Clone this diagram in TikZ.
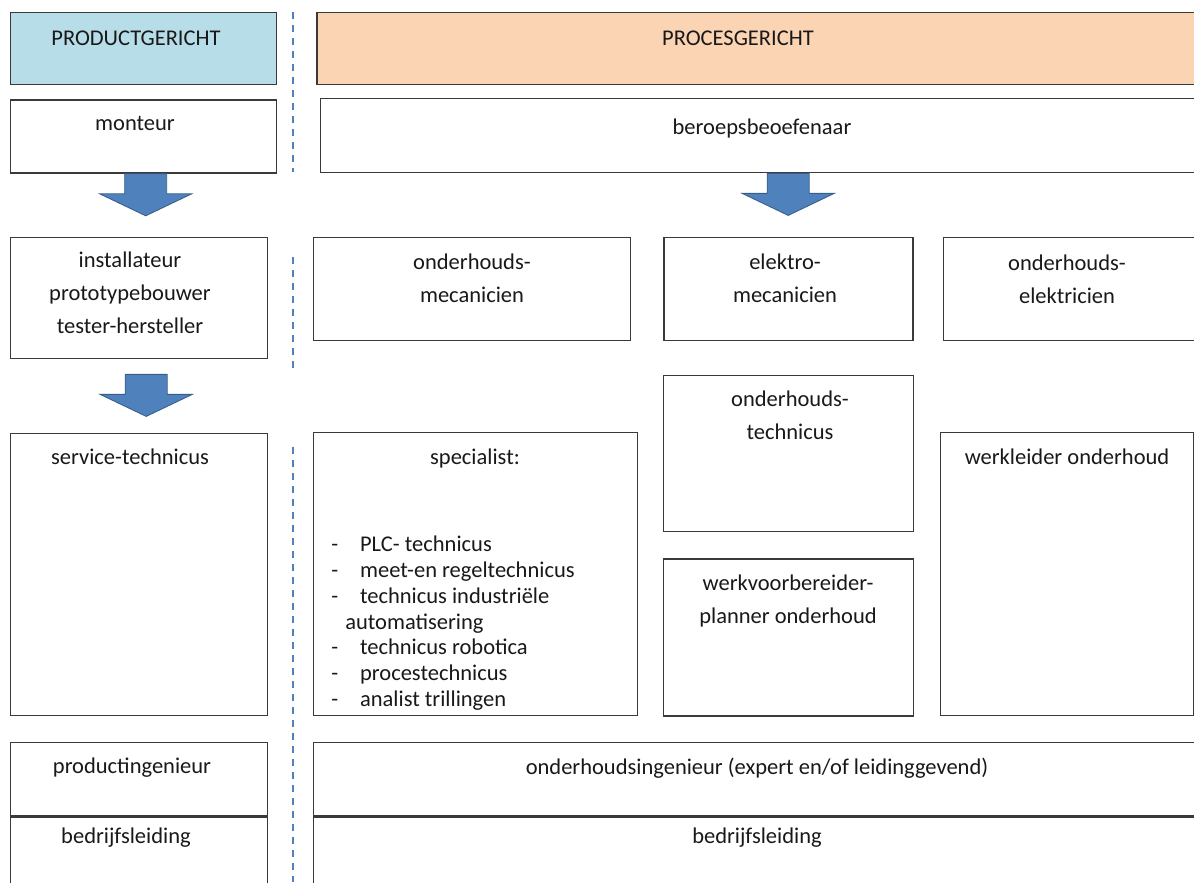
\documentclass[tikz,border=0pt]{standalone}
\usepackage{fontspec}
\setmainfont{Carlito}
\usepackage{tikz}
\usetikzlibrary{positioning,calc}
\definecolor{productblue}{HTML}{B7DEE8}
\definecolor{processpeach}{HTML}{FBD4B4}
\definecolor{arrowblue}{HTML}{4F81BD}
\definecolor{arrowedge}{HTML}{385D8A}
\definecolor{boxline}{HTML}{3A3A3A}
\newcommand{\px}{0.025cm}
\tikzset{
  jobbox/.style={draw=boxline,line width=1pt,fill=white,inner sep=0pt,anchor=north west},
  headbox/.style={jobbox,minimum height=72*\px},
  jobtext/.style={font=\fontsize{16}{23.5}\selectfont,text=black!90,align=center,inner sep=0pt},
  blockarrow/.style={fill=arrowblue,draw=arrowedge,line width=0.6pt,line join=miter},
  divider/.style={draw=arrowblue,line width=1.3pt,dash pattern=on 0.175cm off 0.15cm}
}

\begin{document}
\begin{tikzpicture}[x=\px,y=-\px]
  \useasboundingbox (0,0) rectangle (1194,882);
  \clip (0,0) rectangle (1194,882);

  % kopjes
  \node[headbox,fill=productblue,minimum width=266*\px] (prod) at (10,12) {};
  \node[headbox,fill=processpeach,minimum width=890*\px,right=0.975cm of prod] (proc) {};
  \node[jobtext] (prodlabel) at (136,38) {PRODUCTGERICHT};
  \node[jobtext] (proclabel) at (738,38) {PROCESGERICHT};

  % instroom
  \node[jobbox,minimum width=266*\px,minimum height=73*\px,below=0.35cm of prod] (monteur) {};
  \node[jobbox,minimum width=885*\px,minimum height=74*\px] (beroep) at (320,98) {};
  \node[jobtext] (monteurlabel) at (135,123) {monteur};
  \node[jobtext] (beroeplabel) at (762,128) {beroepsbeoefenaar};

  % tweede niveau
  \node[jobbox,minimum width=257*\px,minimum height=121*\px] (install) at (10,237) {};
  \node[jobbox,minimum width=317*\px,minimum height=103*\px] (ohmec) at (313,237) {};
  \node[jobbox,minimum width=249*\px,minimum height=103*\px,right=0.8cm of ohmec] (elmec) {};
  \node[jobbox,minimum width=260*\px,minimum height=103*\px,right=0.725cm of elmec] (ohelek) {};
  \node[jobtext] (installlabel) at (130,293) {installateur\\prototypebouwer\\tester-hersteller};
  \node[jobtext] (ohmeclabel) at (472,278) {onderhouds-\\mecanicien};
  \node[jobtext] (elmeclabel) at (785,278) {elektro-\\mecanicien};
  \node[jobtext] (oheleklabel) at (1067,279) {onderhouds-\\elektricien};

  % derde niveau
  \node[jobbox,minimum width=257*\px,minimum height=282*\px] (service) at (10,433) {};
  \node[jobbox,minimum width=324*\px,minimum height=283*\px] (special) at (313,432) {};
  \node[jobbox,minimum width=250*\px,minimum height=156*\px] (ohtech) at (663,375) {};
  \node[jobbox,minimum width=250*\px,minimum height=157*\px,below=0.65cm of ohtech] (werkvb) {};
  \node[jobbox,minimum width=253*\px,minimum height=283*\px] (werkleid) at (940,432) {};
  \node[jobtext] (servicelabel) at (130,457) {service-technicus};
  \node[jobtext] (speclabel) at (475,458) {specialist:};
  \node[jobtext,anchor=north west,align=left,font=\fontsize{16}{18.4}\selectfont]
    (speclist) at (331,533) {\begin{tabular}{@{}p{0.72cm}@{}l@{}}
      - & PLC- technicus\\
      - & meet-en regeltechnicus\\
      - & technicus industriële\\
      \multicolumn{2}{@{\hspace{0.35cm}}l@{}}{automatisering}\\
      - & technicus robotica\\
      - & procestechnicus\\
      - & analist trillingen
    \end{tabular}};
  \node[jobtext] (ohtechlabel) at (790,415) {onderhouds-\\technicus};
  \node[jobtext] (werkvblabel) at (788,601) {werkvoorbereider-\\planner onderhoud};
  \node[jobtext] (werkleidlabel) at (1067,457) {werkleider onderhoud};

  % ingenieurs en leiding
  \node[jobbox,minimum width=257*\px,minimum height=73*\px] (proding) at (10,742) {};
  \node[jobbox,minimum width=257*\px,minimum height=80*\px,below=0pt of proding] (bedrleft) {};
  \node[jobbox,minimum width=890*\px,minimum height=73*\px] (ohing) at (313,742) {};
  \node[jobbox,minimum width=890*\px,minimum height=80*\px,below=0pt of ohing] (bedrright) {};
  \draw[boxline,line width=1.6pt] (proding.south west) -- (proding.south east);
  \node[jobtext] (prodinglabel) at (132,768) {productingenieur};
  \node[jobtext] (bedrleftlabel) at (126,838) {bedrijfsleiding};
  \node[jobtext] (ohinglabel) at (757,768) {onderhoudsingenieur (expert en/of leidinggevend)};
  \node[jobtext] (bedrrightlabel) at (757,838) {bedrijfsleiding};

  % scheidingslijn
  \draw[divider] (293,12) -- (293,172);
  \draw[divider] (293,257) -- (293,368);
  \draw[divider] (293,447) -- (293,882);

  % blokpijlen
  \coordinate (arrowa) at ($(monteur.south)+(2,0)$);
  \coordinate (arrowb) at ($(install.south)+(7,15)$);
  \coordinate (arrowc) at ($(beroep.south)+(25,0)$);
  \foreach \top in {arrowa,arrowb,arrowc}
    \draw[blockarrow] ($(\top)+(-21,0)$) -- ++(0,20) -- ++(-25,0) -- ($(\top)+(0,42)$)
      -- ($(\top)+(46,20)$) -- ++(-25,0) -- ($(\top)+(21,0)$) -- cycle;
\end{tikzpicture}
\end{document}
